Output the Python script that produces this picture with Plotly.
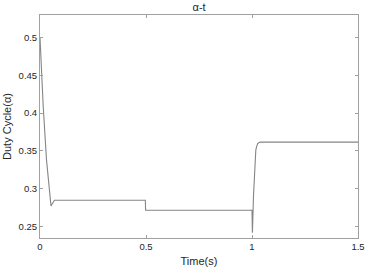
import plotly.graph_objects as go

# time (s) and duty cycle values
t = [0.0, 0.004, 0.0094, 0.015, 0.0306, 0.04, 0.0494, 0.052, 0.056, 0.062, 0.068,
     0.497, 0.498, 1.0, 1.001, 1.002, 1.004, 1.007, 1.01, 1.014, 1.018, 1.022, 1.027, 1.033, 1.04, 1.5]
alpha = [0.5, 0.47, 0.444, 0.41, 0.338, 0.308, 0.2805, 0.277, 0.279, 0.283, 0.2845,
         0.2845, 0.2712, 0.2712, 0.255, 0.2415, 0.26, 0.29, 0.311, 0.335, 0.351, 0.356, 0.3595, 0.361, 0.3615, 0.3615]

xticks = [0, 0.5, 1, 1.5]
xticklabels = ["0", "0.5", "1", "1.5"]
yticks = [0.25, 0.3, 0.35, 0.4, 0.45, 0.5]
yticklabels = ["0.25", "0.3", "0.35", "0.4", "0.45", "0.5"]

FONT = "Liberation Sans, Arial"
axis_common = dict(showgrid=False, zeroline=False, showline=True, linecolor="#a0a0a0",
                   linewidth=1, mirror="ticks", ticks="inside", ticklen=3,
                   tickcolor="#a0a0a0", automargin=False, ticklabeloverflow="allow",
                   tickfont=dict(family=FONT, size=9.5, color="#262626"))

fig = go.Figure()
fig.add_trace(go.Scatter(x=t, y=alpha, mode="lines",
                         line=dict(color="#858585", width=1.1), showlegend=False))

fig.update_layout(
    width=368, height=270,
    margin=dict(l=40, r=10, t=15, b=32),
    paper_bgcolor="white", plot_bgcolor="white",
    title=dict(text="α-t", x=0.541, xanchor="center", y=0.975, yanchor="middle",
               font=dict(family=FONT, size=11, color="#262626")),
    xaxis=dict(range=[0, 1.5], tickvals=xticks, ticktext=xticklabels,
               title=dict(text="Time(s)", standoff=5,
                          font=dict(family=FONT, size=11, color="#262626")),
               **axis_common),
    yaxis=dict(range=[0.2345, 0.53], tickvals=yticks, ticktext=yticklabels,
               title=dict(text="Duty Cycle(α)", standoff=4,
                          font=dict(family=FONT, size=11, color="#262626")),
               **axis_common),
)

fig.write_html("out.html", config={"displayModeBar": False},
               post_script="document.body.style.margin='0';")
